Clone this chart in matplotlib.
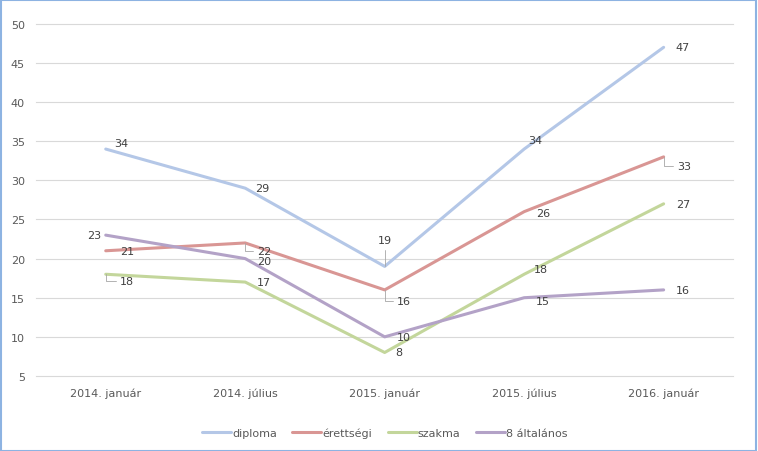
import matplotlib
matplotlib.use('Agg')
from matplotlib import pyplot as plt, patches

categories = ['2014. január', '2014. július', '2015. január', '2015. július', '2016. január']
diploma = [34, 29, 19, 34, 47]
erettsegi = [21, 22, 16, 26, 33]
szakma = [18, 17, 8, 18, 27]
altalanos = [23, 20, 10, 15, 16]

series = [
    ('diploma', diploma, '#b4c7e7'),
    ('érettségi', erettsegi, '#d99694'),
    ('szakma', szakma, '#c3d69b'),
    ('8 általános', altalanos, '#b3a2c7'),
]

# label offsets in pixels (dx, dy, ha, leader)
offsets = {
    'diploma': [(8, 6, 'left', False), (10, 0, 'left', False), (0, 26, 'center', True),
                (4, 9, 'left', False), (12, 0, 'left', False)],
    'érettségi': [(14, 0, 'left', False), (12, -8, 'left', True), (12, -11, 'left', True),
                  (12, -1, 'left', False), (14, -9, 'left', True)],
    'szakma': [(14, -7, 'left', True), (12, 0, 'left', False), (11, 0, 'left', False),
               (10, 5, 'left', False), (12, 0, 'left', False)],
    '8 általános': [(-4, 0, 'right', False), (12, -2, 'left', False), (12, 0, 'left', False),
                    (12, -3, 'left', False), (12, 0, 'left', False)],
}

txt = '#404040'
fig = plt.figure(figsize=(7.58, 4.52), dpi=100)
ax = fig.add_axes([0.0475, 0.166, 0.92, 0.779])
x = list(range(len(categories)))

for name, vals, col in series:
    ax.plot(x, vals, color=col, lw=2.2, label=name, solid_capstyle='round', zorder=3)
    for i, v in enumerate(vals):
        dx, dy, ha, lead = offsets[name][i]
        kw = {}
        if lead:
            kw['arrowprops'] = dict(arrowstyle='-', color='#a6a6a6', lw=0.6,
                                    shrinkA=1, shrinkB=0,
                                    connectionstyle='angle,angleA=0,angleB=90,rad=0')
        ax.annotate(str(v), (i, v), xytext=(dx, dy), textcoords='offset pixels',
                    ha=ha, va='center', fontsize=8, color=txt, zorder=4, **kw)

ax.set_xlim(-0.5, 4.5)
ax.set_ylim(5, 50)
ax.set_yticks(range(5, 51, 5))
ax.set_xticks(x)
ax.set_xticklabels(categories)
ax.grid(axis='y', color='#d9d9d9', lw=0.8)
for gl in ax.get_ygridlines():
    gl.set_clip_on(False)
ax.set_axisbelow(True)
for s in ax.spines.values():
    s.set_visible(False)
ax.tick_params(length=0, labelsize=8, colors='#595959')
ax.tick_params(axis='y', pad=8)
ax.tick_params(axis='x', pad=8)

ax.legend(loc='lower center', bbox_to_anchor=(0.5, -0.205), ncol=4, frameon=False,
          fontsize=8, handlelength=2.6, handletextpad=0.1, columnspacing=1.4,
          labelcolor='#595959')

fig.patches.append(patches.Rectangle((0.001, 0.001), 0.997, 0.997, transform=fig.transFigure,
                                     fill=False, edgecolor='#8db3e2', lw=1.5))

fig.savefig('out.png', dpi=100)
